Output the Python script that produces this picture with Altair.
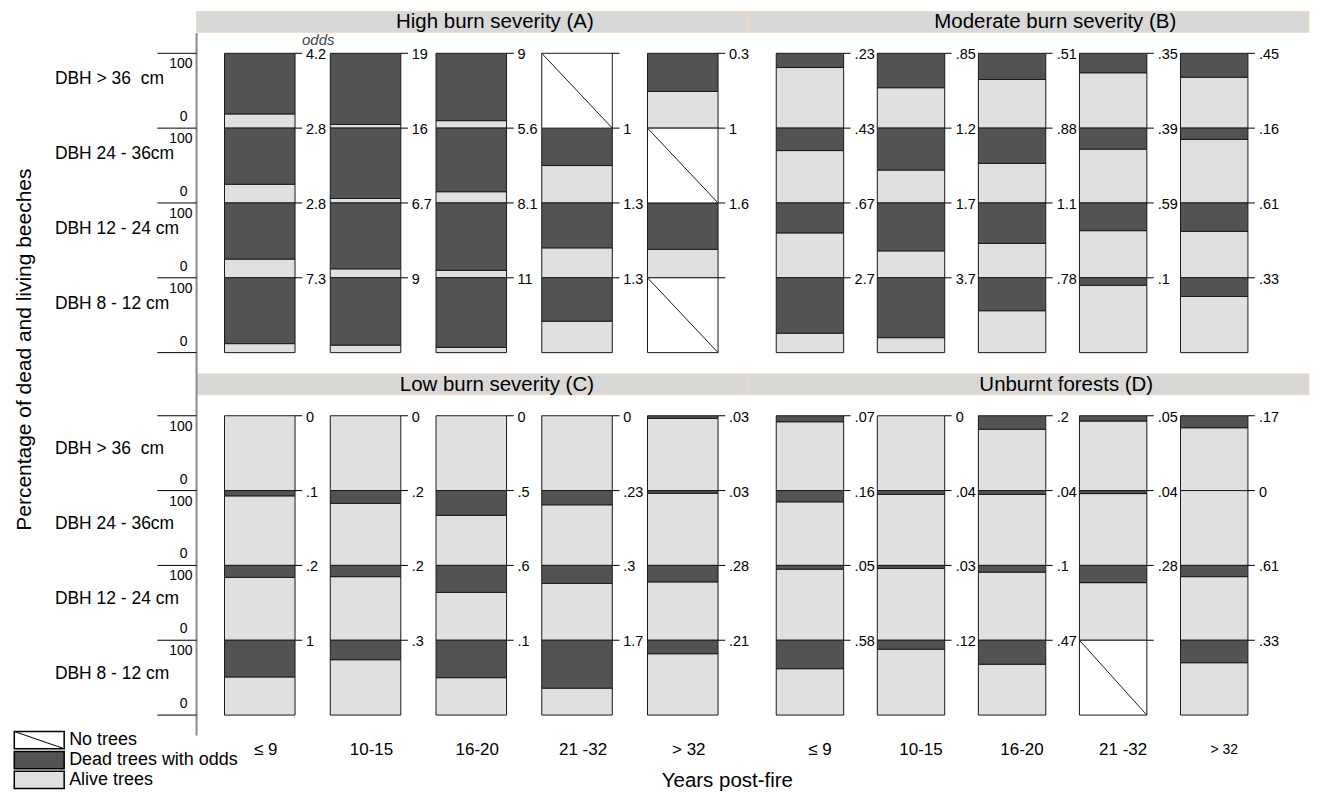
import altair as alt
import pandas as pd

# ---------------- data ----------------
panel_titles = ["High burn severity (A)", "Moderate burn severity (B)",
                "Low burn severity (C)", "Unburnt forests (D)"]
age_classes = ["≤ 9", "10-15", "16-20", "21 -32", "> 32"]
dbh_classes = ["DBH > 36\u00a0 cm", "DBH 24 - 36cm", "DBH 12 - 24 cm", "DBH 8 - 12 cm"]

# % dead trees, per age class, DBH rows from top (>36) to bottom (8-12); None = no trees
dead_A = [[81, 75, 75, 88], [95, 94, 88, 90], [90, 85, 90, 93], [None, 50, 60, 58], [51, None, 62, None]]
dead_B = [[19, 30, 40, 74], [46, 56, 64, 80], [35, 47, 54, 44], [26, 28, 37, 10], [32, 15, 38, 25]]
dead_C = [[0, 7, 16, 49], [0, 17, 15, 26], [0, 33, 36, 50], [0, 19, 24, 64], [3.5, 3.5, 22, 18]]
dead_D = [[8, 15, 5, 38], [0, 5, 4, 12], [18, 5, 9, 32], [7, 4, 23, None], [16, 0, 15, 30]]

odds_A = [["4.2", "2.8", "2.8", "7.3"], ["19", "16", "6.7", "9"], ["9", "5.6", "8.1", "11"],
          ["", "1", "1.3", "1.3"], ["0.3", "1", "1.6", ""]]
odds_B = [[".23", ".43", ".67", "2.7"], [".85", "1.2", "1.7", "3.7"], [".51", ".88", "1.1", ".78"],
          [".35", ".39", ".59", ".1"], [".45", ".16", ".61", ".33"]]
odds_C = [["0", ".1", ".2", "1"], ["0", ".2", ".2", ".3"], ["0", ".5", ".6", ".1"],
          ["0", ".23", ".3", "1.7"], [".03", ".03", ".28", ".21"]]
odds_D = [[".07", ".16", ".05", ".58"], ["0", ".04", ".03", ".12"], [".2", ".04", ".1", ".47"],
          [".05", ".04", ".28", ""], [".17", "0", ".61", ".33"]]

legend_labels = ["No trees", "Dead trees with odds", "Alive trees"]

dead_by_panel = [dead_A, dead_B, dead_C, dead_D]
odds_by_panel = [odds_A, odds_B, odds_C, odds_D]

# ---------------- style ----------------
FONT = "Liberation Sans"
DEAD = "#525453"
ALIVE = "#dfe0df"
EDGE = "#1a1a1a"
STRIP = "#d8d8d8"
STRIP_EDGE = "#f4d7bd"
AXIS_GREY = "#8a8a8a"

BAR_W = 0.667
TICK = 0.068
H = 342
YDOM = [0, 456]
geo = {
    0: dict(W=553, dom=[-0.2642, 4.953], tdx=22.5, lab_dx=6),
    1: dict(W=562, dom=[-0.2764, 5.2715], tdx=26.7, lab_dx=10),
    2: dict(W=553, dom=[-0.2642, 4.953], tdx=24.5, lab_dx=6),
    3: dict(W=562, dom=[-0.2764, 5.2715], tdx=37.7, lab_dx=10),
}

rows = []
for p in range(4):
    for c in range(5):
        for r in range(4):
            d = dead_by_panel[p][c][r]
            top = (4 - r) * 100
            dv = 0 if d is None else d
            rows.append(dict(panel=p, col=c, row=r, x0=c, x1=c + BAR_W, xt=c + BAR_W + TICK,
                             top=top, base=top - 100, notrees=d is None, dead=dv,
                             split=top - dv, odds=odds_by_panel[p][c][r]))
df = pd.DataFrame(rows)

dbh_df = pd.DataFrame({"dbh": dbh_classes, "top": [400, 300, 200, 100], "base": [300, 200, 100, 0]})
bounds_df = pd.DataFrame({"b": [0, 100, 200, 300, 400]})
legend_df = pd.DataFrame({"label": legend_labels, "fill": ["white", DEAD, ALIVE], "idx": [0, 1, 2]})


def panel(p):
    g = geo[p]
    W = g["W"]
    xs = alt.Scale(domain=g["dom"], nice=False, zero=False)
    ys = alt.Scale(domain=YDOM, nice=False, zero=False)

    def X(f):
        return alt.X(f"{f}:Q", scale=xs, axis=None)

    def Y(f):
        return alt.Y(f"{f}:Q", scale=ys, axis=None)

    base = alt.Chart(df[df.panel == p])
    tdf = pd.DataFrame({"title": [panel_titles[p]]})

    layers = []
    layers.append(alt.Chart(tdf).mark_rect(fill=STRIP, stroke=STRIP_EDGE, strokeWidth=1).encode(
        x=alt.value(0), x2=alt.value(W), y=alt.value(0), y2=alt.value(21)))
    layers.append(alt.Chart(tdf).mark_text(fontSize=20.5, baseline="middle", font=FONT, color="black").encode(
        x=alt.value(W / 2 + g["tdx"]), y=alt.value(11), text="title:N"))

    layers.append(base.transform_filter("!datum.notrees").mark_rect(
        fill=ALIVE, stroke=EDGE, strokeWidth=1).encode(x=X("x0"), x2="x1", y=Y("split"), y2="base"))
    layers.append(base.transform_filter("!datum.notrees && datum.dead > 0").mark_rect(
        fill=DEAD, stroke=EDGE, strokeWidth=1).encode(x=X("x0"), x2="x1", y=Y("top"), y2="split"))
    layers.append(base.transform_filter("datum.notrees").mark_rect(
        fill="white", stroke=EDGE, strokeWidth=1).encode(x=X("x0"), x2="x1", y=Y("top"), y2="base"))
    layers.append(base.transform_filter("datum.notrees").mark_rule(
        color=EDGE, strokeWidth=1).encode(x=X("x0"), x2="x1", y=Y("top"), y2="base"))
    layers.append(base.mark_rule(color="black", strokeWidth=1).encode(x=X("x1"), x2="xt", y=Y("top")))
    layers.append(base.mark_text(align="left", baseline="middle", dx=11, dy=2, fontSize=14.5,
                                 font=FONT, color="black").encode(x=X("x1"), y=Y("top"), text="odds:N"))

    if p in (0, 2):
        if p == 0:
            layers.append(alt.Chart(tdf).mark_rule(color=AXIS_GREY, strokeWidth=2).encode(
                x=alt.value(0), y=alt.value(21.7), y2=alt.value(363.5)))
        else:
            layers.append(alt.Chart(tdf).mark_rule(color=AXIS_GREY, strokeWidth=2).encode(
                x=alt.value(0), y=alt.value(0), y2=alt.value(362.4)))
        layers.append(alt.Chart(bounds_df).mark_rule(color="black", strokeWidth=1).encode(
            x=alt.value(-39.3), x2=alt.value(0), y=Y("b")))
        layers.append(alt.Chart(dbh_df).mark_text(text="100", align="right", baseline="middle", dy=11,
                                                  fontSize=14, font=FONT).encode(x=alt.value(-4), y=Y("top")))
        layers.append(alt.Chart(dbh_df).mark_text(text="0", align="right", baseline="middle", dy=-11,
                                                  fontSize=14, font=FONT).encode(x=alt.value(-9), y=Y("base")))
        layers.append(alt.Chart(dbh_df).mark_text(align="left", baseline="middle", dy=26 if p == 0 else 33.5,
                                                  fontSize=17.5, font=FONT).encode(
            x=alt.value(-142), y=Y("top"), text="dbh:N"))

    if p == 0:
        odf = pd.DataFrame({"t": ["odds"], "x": [BAR_W], "y": [400]})
        layers.append(alt.Chart(odf).mark_text(align="left", baseline="middle", dx=7, dy=-13, fontSize=15,
                                               fontStyle="italic", color="#444", font=FONT).encode(
            x=X("x"), y=Y("y"), text="t:N"))
        ydf = pd.DataFrame({"t": ["Percentage of dead and living beeches"]})
        layers.append(alt.Chart(ydf).mark_text(angle=270, align="center", baseline="middle", fontSize=21,
                                               font=FONT).encode(
            x=alt.value(-172), y=alt.value(339), text="t:N"))

    if p in (2, 3):
        adf = pd.DataFrame({"age": age_classes, "xc": [c + BAR_W / 2 for c in range(5)],
                            "fs": [17, 17, 17, 17, 17 if p == 2 else 14]})
        layers.append(alt.Chart(adf).mark_text(baseline="middle", dx=g["lab_dx"], font=FONT).encode(
            x=X("xc"), y=alt.value(376.7), text="age:N", size=alt.Size("fs:Q", scale=None)))

    if p == 2:
        xdf = pd.DataFrame({"t": ["Years post-fire"]})
        layers.append(alt.Chart(xdf).mark_text(baseline="middle", fontSize=20.5, font=FONT).encode(
            x=alt.value(532), y=alt.value(408.4), text="t:N"))
        leg = alt.Chart(legend_df).transform_calculate(
            ytop="-21.87 - 26.67 * datum.idx").transform_calculate(
            ybot="datum.ytop - 23.07", ymid="datum.ytop - 11.53")
        layers.append(leg.mark_rect(stroke="black", strokeWidth=1.5).encode(
            x=alt.value(-182.7), x2=alt.value(-132.7), y=Y("ytop"), y2="ybot",
            fill=alt.Fill("fill:N", scale=None)))
        layers.append(leg.transform_filter("datum.idx == 0").mark_rule(color="black", strokeWidth=1).encode(
            x=alt.value(-182.7), x2=alt.value(-132.7), y=Y("ytop"), y2="ybot"))
        layers.append(leg.mark_text(align="left", baseline="middle", fontSize=18, font=FONT).encode(
            x=alt.value(-127.7), y=Y("ymid"), text="label:N"))

    return alt.layer(*layers).properties(width=W, height=H)


chart = alt.concat(panel(0), panel(1), panel(2), panel(3), columns=2,
                   spacing={"row": 21.3, "column": 0}, bounds="flush", align="each").properties(
    padding={"left": 5, "top": 1.5, "right": 2, "bottom": 0}
).configure(font=FONT).configure_view(stroke=None)

chart.save("out.html", embed_options={"renderer": "svg", "actions": False})
